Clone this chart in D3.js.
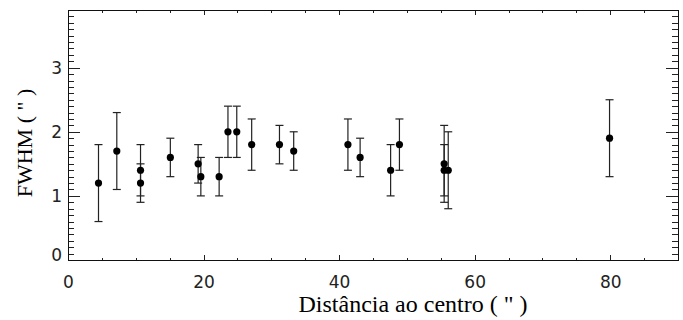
<!DOCTYPE html>
<html>
<head>
<meta charset="utf-8">
<script src="https://cdn.jsdelivr.net/npm/d3@7"></script>
<style>
  body { margin: 0; background: #fff; }
  svg { display: block; }
</style>
</head>
<body>
<script>
const width = 683;
const height = 320;
const marginTop = 10;
const marginRight = 3;
const marginBottom = 60;
const marginLeft = 68;

// distance from centre (arcsec), FWHM (arcsec) and its error
const dist = [4.5, 7.2, 10.7, 10.7, 15.1, 19.2, 19.6, 22.3, 23.6, 24.9, 27.1,
  31.2, 33.3, 41.3, 43.1, 47.6, 48.9, 55.5, 55.5, 56.1, 79.9];
const fwhm = [1.2, 1.7, 1.4, 1.2, 1.6, 1.5, 1.3, 1.3, 2.0, 2.0, 1.8,
  1.8, 1.7, 1.8, 1.6, 1.4, 1.8, 1.5, 1.4, 1.4, 1.9];
const err = [0.6, 0.6, 0.4, 0.3, 0.3, 0.3, 0.3, 0.3, 0.4, 0.4, 0.4,
  0.3, 0.3, 0.4, 0.3, 0.4, 0.4, 0.6, 0.4, 0.6, 0.6];

const xTicks = [0, 20, 40, 60, 80];
const yTicks = [0, 1, 2, 3];

const points = dist.map((d, i) => ({ x: d, y: fwhm[i], e: err[i] }));

const x = d3.scaleLinear([0, 90], [marginLeft, width - marginRight - 2]);
const y = d3.scaleLinear([0, 3.9], [height - marginBottom, marginTop]);

const svg = d3.select("body").append("svg")
  .attr("width", width)
  .attr("height", height);

const tickFont = "'DejaVu Sans', sans-serif";
const serif = "'Liberation Serif', 'Times New Roman', serif";
const xMinor = d3.range(0, 91, 5).filter((v) => v % 20 != 0);
const yMinor = d3.range(0, 39).map((v) => v / 10).filter((v) => v % 1 != 0);

function styleAxis(g) {
  g.select(".domain").remove();
  g.selectAll("line").attr("stroke", "#222").attr("shape-rendering", "crispEdges");
  g.selectAll("text").attr("font-family", tickFont).attr("font-size", 17).attr("fill", "#222");
}

// bottom
svg.append("g").attr("transform", `translate(0,${y(0)})`)
  .call(d3.axisBottom(x).tickValues(xTicks).tickSize(-5).tickPadding(16).tickFormat(d3.format("d")))
  .call(styleAxis);
svg.append("g").attr("transform", `translate(0,${y(0)})`)
  .call(d3.axisBottom(x).tickValues(xMinor).tickSize(-2.5).tickFormat(""))
  .call(styleAxis);
// top
svg.append("g").attr("transform", `translate(0,${marginTop})`)
  .call(d3.axisTop(x).tickValues(xTicks).tickSize(-5).tickFormat(""))
  .call(styleAxis);
svg.append("g").attr("transform", `translate(0,${marginTop})`)
  .call(d3.axisTop(x).tickValues(xMinor).tickSize(-2.5).tickFormat(""))
  .call(styleAxis);
// left
svg.append("g").attr("transform", `translate(${marginLeft},0)`)
  .call(d3.axisLeft(y).tickValues(yTicks).tickSize(-12).tickPadding(6).tickFormat(d3.format("d")))
  .call(styleAxis)
  .call((g) => g.selectAll("text").filter((d) => d == 0).attr("y", -5));
svg.append("g").attr("transform", `translate(${marginLeft},0)`)
  .call(d3.axisLeft(y).tickValues(yMinor).tickSize(-6).tickFormat(""))
  .call(styleAxis);
// right
svg.append("g").attr("transform", `translate(${x(90)},0)`)
  .call(d3.axisRight(y).tickValues(yTicks).tickSize(-12).tickFormat(""))
  .call(styleAxis);
svg.append("g").attr("transform", `translate(${x(90)},0)`)
  .call(d3.axisRight(y).tickValues(yMinor).tickSize(-6).tickFormat(""))
  .call(styleAxis);

// frame
svg.append("rect")
  .attr("x", x(0))
  .attr("y", y(3.9))
  .attr("width", x(90) - x(0))
  .attr("height", y(0) - y(3.9))
  .attr("fill", "none")
  .attr("stroke", "#111")
  .attr("shape-rendering", "crispEdges");

// error bars
const bars = svg.append("g")
  .attr("stroke", "#222")
  .attr("stroke-width", 1.2)
  .selectAll("g")
  .data(points)
  .join("g");

bars.append("line")
  .attr("x1", (d) => x(d.x)).attr("x2", (d) => x(d.x))
  .attr("y1", (d) => y(d.y - d.e)).attr("y2", (d) => y(d.y + d.e));
bars.append("line")
  .attr("x1", (d) => x(d.x) - 4).attr("x2", (d) => x(d.x) + 4)
  .attr("y1", (d) => y(d.y + d.e)).attr("y2", (d) => y(d.y + d.e));
bars.append("line")
  .attr("x1", (d) => x(d.x) - 4).attr("x2", (d) => x(d.x) + 4)
  .attr("y1", (d) => y(d.y - d.e)).attr("y2", (d) => y(d.y - d.e));

svg.append("g")
  .selectAll("circle")
  .data(points)
  .join("circle")
  .attr("cx", (d) => x(d.x))
  .attr("cy", (d) => y(d.y))
  .attr("r", 3.6)
  .attr("fill", "#000");

// titles
svg.append("text")
  .attr("x", 413)
  .attr("y", 312)
  .attr("text-anchor", "middle")
  .attr("font-family", serif)
  .attr("font-size", 24)
  .text("Distância ao centro ( \" )");

svg.append("text")
  .attr("transform", `translate(32,143) rotate(-90)`)
  .attr("text-anchor", "middle")
  .attr("font-family", serif)
  .attr("font-size", 22)
  .text("FWHM ( \" )");
</script>
</body>
</html>
